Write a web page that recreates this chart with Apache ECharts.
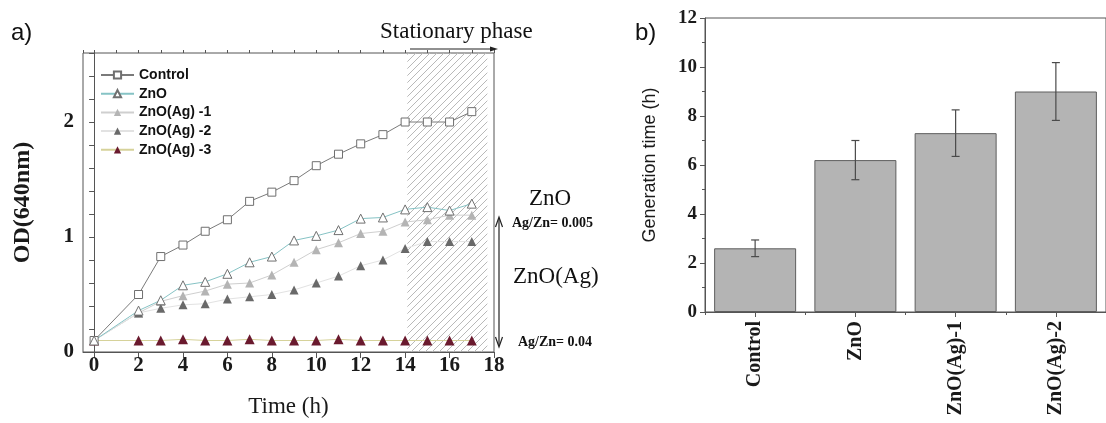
<!DOCTYPE html>
<html>
<head>
<meta charset="utf-8">
<script src="https://cdn.jsdelivr.net/npm/echarts@6/dist/echarts.min.js"></script>
<style>
html,body{margin:0;padding:0;background:#fff;}
#chart{width:1106px;height:423px;}
</style>
</head>
<body>
<div id="chart"></div>
<script>
// ---- data (panel a) ----
var hours = [0, 2, 3, 4, 5, 6, 7, 8, 9, 10, 11, 12, 13, 14, 15, 16, 17];
var control = [0.10, 0.50, 0.83, 0.93, 1.05, 1.15, 1.31, 1.39, 1.49, 1.62, 1.72, 1.81, 1.89, 2.00, 2.00, 2.00, 2.09];
var znoOD = [0.10, 0.36, 0.45, 0.58, 0.61, 0.68, 0.78, 0.83, 0.97, 1.01, 1.06, 1.16, 1.17, 1.24, 1.26, 1.23, 1.29];
var znoAg1 = [0.10, 0.34, 0.44, 0.49, 0.53, 0.59, 0.60, 0.67, 0.78, 0.89, 0.95, 1.03, 1.05, 1.13, 1.15, 1.19, 1.19];
var znoAg2 = [0.10, 0.34, 0.38, 0.41, 0.42, 0.46, 0.48, 0.50, 0.54, 0.60, 0.66, 0.75, 0.80, 0.90, 0.96, 0.96, 0.96];
var znoAg3 = [0.10, 0.10, 0.10, 0.11, 0.10, 0.10, 0.11, 0.10, 0.10, 0.10, 0.11, 0.10, 0.10, 0.10, 0.10, 0.10, 0.10];
var seriesNames = ['Control', 'ZnO', 'ZnO(Ag) -1', 'ZnO(Ag) -2', 'ZnO(Ag) -3'];
var stationaryStart = 14.1, stationaryEnd = 17.7;

// ---- data (panel b) ----
var categories = ['Control', 'ZnO', 'ZnO(Ag)-1', 'ZnO(Ag)-2'];
var genTime = [2.6, 6.2, 7.3, 9.0];
var genErr = [0.34, 0.8, 0.95, 1.18];

function pairs(xs, ys) { return xs.map(function (x, i) { return [x, ys[i]]; }); }

// hatch pattern
var pc = document.createElement('canvas');
pc.width = 7; pc.height = 7;
var g = pc.getContext('2d');
g.strokeStyle = '#b9b9b9'; g.lineWidth = 1;
g.beginPath();
g.moveTo(0, 7); g.lineTo(7, 0);
g.moveTo(-1, 1); g.lineTo(1, -1);
g.moveTo(6, 8); g.lineTo(8, 6);
g.stroke();

var serif = 'Liberation Serif';
var tickLabel = { fontFamily: serif, fontWeight: 'bold', color: '#1a1a1a' };
var axisLineStyle = { color: '#555', width: 1 };

var chart = echarts.init(document.getElementById('chart'), null, { renderer: 'canvas' });

var errData = categories.map(function (c, i) { return [i, genTime[i] - genErr[i], genTime[i] + genErr[i]]; });

var option = {
  animation: false,
  backgroundColor: '#fff',
  grid: [
    { left: 83, top: 53, width: 411, height: 305, show: true, borderColor: '#555', borderWidth: 1, backgroundColor: 'transparent' },
    { left: 705, top: 18, width: 412, height: 294, show: true, borderColor: '#555', borderWidth: 1, backgroundColor: 'transparent' }
  ],
  legend: {
    data: seriesNames,
    orient: 'vertical',
    left: 95, top: 63,
    itemWidth: 33, itemHeight: 9, itemGap: 4.7,
    textStyle: { fontFamily: 'Liberation Sans', fontWeight: 'bold', fontSize: 14, color: '#111', lineHeight: 14 }
  },
  xAxis: [
    {
      type: 'value', gridIndex: 0, min: -0.5, max: 18, minInterval: 2, maxInterval: 2, splitNumber: 9,
      splitLine: { show: false },
      axisLine: { show: true, lineStyle: axisLineStyle },
      axisTick: { show: true, length: 6, lineStyle: axisLineStyle },
      axisLabel: Object.assign({ fontSize: 21, margin: 3, showMinLabel: false }, tickLabel),
      name: 'Time (h)', nameLocation: 'middle', nameGap: 43,
      nameTextStyle: { fontFamily: serif, fontSize: 23, color: '#1a1a1a' }
    },
    {
      type: 'value', gridIndex: 0, min: -0.5, max: 18, minInterval: 1, maxInterval: 1, splitNumber: 18,
      splitLine: { show: false },
      axisLine: { show: false },
      axisTick: { show: true, length: 3, lineStyle: axisLineStyle },
      axisLabel: { show: false }
    },
    {
      type: 'category', gridIndex: 1, data: categories,
      axisLine: { show: true, lineStyle: axisLineStyle },
      axisTick: { show: true, alignWithLabel: true, length: 5, lineStyle: axisLineStyle },
      axisLabel: Object.assign({ fontSize: 20, rotate: 90, margin: 9, interval: 0 }, tickLabel)
    },
    {
      type: 'category', gridIndex: 1, data: categories, position: 'bottom',
      axisLine: { show: false },
      axisTick: { show: true, length: 3, lineStyle: axisLineStyle },
      axisLabel: { show: false }
    }
  ],
  yAxis: [
    {
      type: 'value', gridIndex: 0, min: 0, max: 2.6, interval: 0.2,
      splitLine: { show: false },
      axisLine: { show: true, lineStyle: axisLineStyle },
      axisTick: { show: true, length: 5, lineStyle: axisLineStyle },
      axisLabel: Object.assign({
        fontSize: 21, margin: 9,
        formatter: function (v) { return Math.abs(v - Math.round(v)) < 1e-9 ? String(Math.round(v)) : ''; }
      }, tickLabel),
      name: 'OD(640nm)', nameLocation: 'middle', nameGap: 48,
      nameTextStyle: { fontFamily: serif, fontWeight: 'bold', fontSize: 24, color: '#1a1a1a' }
    },
    {
      type: 'value', gridIndex: 1, min: 0, max: 12, interval: 2,
      splitLine: { show: false },
      axisLine: { show: true, lineStyle: axisLineStyle },
      axisTick: { show: true, length: 5, lineStyle: axisLineStyle },
      minorTick: { show: true, splitNumber: 2, length: 3, lineStyle: axisLineStyle },
      axisLabel: Object.assign({ fontSize: 19, margin: 8 }, tickLabel),
      name: 'Generation time (h)', nameLocation: 'middle', nameGap: 46,
      nameTextStyle: { fontFamily: 'Liberation Sans', fontSize: 18, color: '#1a1a1a' }
    }
  ],
  series: [
    {
      name: seriesNames[0], type: 'line', xAxisIndex: 0, yAxisIndex: 0,
      data: pairs(hours, control), symbol: 'rect', symbolSize: 8,
      lineStyle: { color: '#7a7a7a', width: 1 },
      itemStyle: { color: '#fff', borderColor: '#6f6f6f', borderWidth: 1 },
      z: 5,
      markArea: {
        silent: true,
        itemStyle: { color: { image: pc, repeat: 'repeat' } },
        data: [[{ xAxis: stationaryStart, yAxis: 0 }, { xAxis: stationaryEnd, yAxis: 2.6 }]]
      }
    },
    {
      name: seriesNames[1], type: 'line', xAxisIndex: 0, yAxisIndex: 0,
      data: pairs(hours, znoOD), symbol: 'triangle', symbolSize: 9,
      lineStyle: { color: '#86c3c5', width: 1 },
      itemStyle: { color: '#fff', borderColor: '#707070', borderWidth: 1 }, z: 5
    },
    {
      name: seriesNames[2], type: 'line', xAxisIndex: 0, yAxisIndex: 0,
      data: pairs(hours, znoAg1), symbol: 'triangle', symbolSize: 9,
      lineStyle: { color: '#cfcfcf', width: 1 },
      itemStyle: { color: '#b4b4b4' }, z: 4
    },
    {
      name: seriesNames[3], type: 'line', xAxisIndex: 0, yAxisIndex: 0,
      data: pairs(hours, znoAg2), symbol: 'triangle', symbolSize: 9,
      lineStyle: { color: '#e2e2e2', width: 1 },
      itemStyle: { color: '#696969' }, z: 4
    },
    {
      name: seriesNames[4], type: 'line', xAxisIndex: 0, yAxisIndex: 0,
      data: pairs(hours, znoAg3), symbol: 'triangle', symbolSize: 10,
      lineStyle: { color: '#d6d29a', width: 1 },
      itemStyle: { color: '#6a1a2e' }, z: 4
    },
    {
      type: 'bar', xAxisIndex: 2, yAxisIndex: 1, data: genTime, barWidth: 82,
      itemStyle: { color: '#b4b4b4', borderColor: '#5e5e5e', borderWidth: 1 }
    },
    {
      type: 'custom', xAxisIndex: 2, yAxisIndex: 1, data: errData, z: 10,
      renderItem: function (params, api) {
        var i = api.value(0);
        var lo = api.coord([i, api.value(1)]);
        var hi = api.coord([i, api.value(2)]);
        var hw = 4;
        var st = { stroke: '#4a4a4a', lineWidth: 1.2 };
        return {
          type: 'group', children: [
            { type: 'line', shape: { x1: hi[0], y1: hi[1], x2: lo[0], y2: lo[1] }, style: st },
            { type: 'line', shape: { x1: hi[0] - hw, y1: hi[1], x2: hi[0] + hw, y2: hi[1] }, style: st },
            { type: 'line', shape: { x1: lo[0] - hw, y1: lo[1], x2: lo[0] + hw, y2: lo[1] }, style: st }
          ]
        };
      }
    }
  ],
  graphic: [
    { type: 'text', left: 11, top: 21, style: { text: 'a)', font: '24px "Liberation Sans"', fill: '#111' } },
    { type: 'text', left: 635, top: 21, style: { text: 'b)', font: '24px "Liberation Sans"', fill: '#111' } },
    { type: 'text', left: 380, top: 20, style: { text: 'Stationary phase', font: '23px "Liberation Serif"', fill: '#111' } },
    { type: 'line', shape: { x1: 410, y1: 49, x2: 493, y2: 49 }, style: { stroke: '#222', lineWidth: 1.2 } },
    { type: 'polygon', shape: { points: [[490, 46.5], [498, 49], [490, 51.5]] }, style: { fill: '#222' } },
    { type: 'text', left: 529, top: 187, style: { text: 'ZnO', font: '23px "Liberation Serif"', fill: '#111' } },
    { type: 'text', left: 512, top: 216, style: { text: 'Ag/Zn= 0.005', font: 'bold 14px "Liberation Serif"', fill: '#111' } },
    { type: 'text', left: 513, top: 265, style: { text: 'ZnO(Ag)', font: '23px "Liberation Serif"', fill: '#111' } },
    { type: 'text', left: 518, top: 335, style: { text: 'Ag/Zn= 0.04', font: 'bold 14px "Liberation Serif"', fill: '#111' } },
    { type: 'line', shape: { x1: 499, y1: 218, x2: 499, y2: 346 }, style: { stroke: '#222', lineWidth: 1.2 } },
    { type: 'polyline', shape: { points: [[495.5, 227], [499, 217], [502.5, 227]] }, style: { stroke: '#222', lineWidth: 1.2, fill: null } },
    { type: 'polyline', shape: { points: [[495.5, 337], [499, 347], [502.5, 337]] }, style: { stroke: '#222', lineWidth: 1.2, fill: null } }
  ]
};
chart.setOption(option);
</script>
</body>
</html>
